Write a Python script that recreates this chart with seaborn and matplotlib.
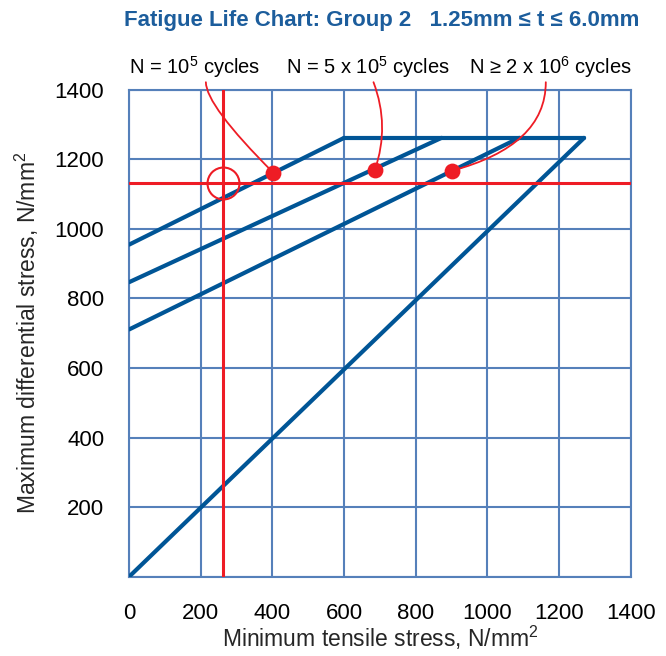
import matplotlib
matplotlib.use("Agg")
import matplotlib.pyplot as plt
import pandas as pd
import seaborn as sns

# boundary lines of the chart, N/mm^2 (two end points per segment)
segment = ["1e5", "1e5", "5e5", "5e5", "2e6", "2e6", "top", "top", "diag", "diag"]
min_tensile = [0, 600, 0, 872, 0, 1089, 600, 1270, 0, 1270]
max_diff = [955, 1262, 847, 1262, 711, 1262, 1262, 1262, 0, 1262]

# worked example (red cross-hair)
example_min = 263
example_max = 1132

# points marked on each life line
point_x = [402, 686, 900]
point_y = [1162, 1170, 1167]
point_labels = ["N = 10$^5$ cycles", "N = 5 x 10$^5$ cycles", "N ≥ 2 x 10$^6$ cycles"]

ticks = [0, 200, 400, 600, 800, 1000, 1200, 1400]

BLUE = "#005596"
GRID = "#5580ba"
RED = "#ee1c25"
TITLE = "#1c5d9c"

sns.set_theme(style="white")
plt.rcParams["font.family"] = ["Liberation Sans", "DejaVu Sans"]
plt.rcParams["mathtext.fontset"] = "custom"
plt.rcParams["mathtext.rm"] = "Liberation Sans"
plt.rcParams["mathtext.it"] = "Liberation Sans:italic"
plt.rcParams["mathtext.default"] = "regular"

fig = plt.figure(figsize=(6.66, 6.56), dpi=100)
ax = fig.add_axes([0.194, 0.121, 0.753, 0.742])

lines = pd.DataFrame({"segment": segment, "x": min_tensile, "y": max_diff})
sns.lineplot(data=lines, x="x", y="y", units="segment", estimator=None, sort=False,
             color=BLUE, lw=3, ax=ax, zorder=3)

ax.axvline(example_min, color=RED, lw=2.2, zorder=4)
ax.axhline(example_max, color=RED, lw=2.2, zorder=4)
ax.plot([example_min], [example_max], marker="o", ms=23, mfc="none", mec=RED, mew=1.5,
        zorder=5)

sns.scatterplot(x=point_x, y=point_y, s=130, color=RED, edgecolor=RED, linewidth=0,
                ax=ax, zorder=6)

# labels above the plot with curved leaders to the points
label_x = [183, 666, 1177]
starts = [(214, 1422), (682, 1422), (1163, 1422)]
styles = ["angle3,angleA=90,angleB=135", "arc3,rad=-0.18", "angle3,angleA=90,angleB=15"]
for text, lx, (sx, sy), px, py, st in zip(point_labels, label_x, starts, point_x, point_y, styles):
    ax.text(lx, 1466, text, ha="center", va="center", fontsize=14.5, color="black",
            clip_on=False)
    ax.annotate("", xy=(px, py), xytext=(sx, sy), annotation_clip=False,
                arrowprops=dict(arrowstyle="-", color=RED, lw=1.3, shrinkA=0, shrinkB=0,
                                connectionstyle=st))

ax.set_xlim(0, 1400)
ax.set_ylim(0, 1400)
ax.set_xticks(ticks)
ax.set_yticks(ticks)
ax.set_yticklabels(["" if t == 0 else str(t) for t in ticks])
ax.grid(True, color=GRID, lw=1.5)
ax.set_axisbelow(True)
for sp in ax.spines.values():
    sp.set_color(GRID)
    sp.set_linewidth(1.5)
ax.tick_params(axis="both", length=0, labelsize=16, colors="black")
ax.tick_params(axis="x", pad=19)
ax.tick_params(axis="y", pad=18)
ax.set_xlabel("Minimum tensile stress, N/mm$^2$", fontsize=16.5, labelpad=0)
ax.set_ylabel("Maximum differential stress, N/mm$^2$", fontsize=16.5, labelpad=10)

fig.text(0.573, 0.968, "Fatigue Life Chart: Group 2   1.25mm ≤ t ≤ 6.0mm", ha="center",
         va="center", fontsize=16, fontweight="bold", color=TITLE)

fig.savefig("out.png", dpi=100)
